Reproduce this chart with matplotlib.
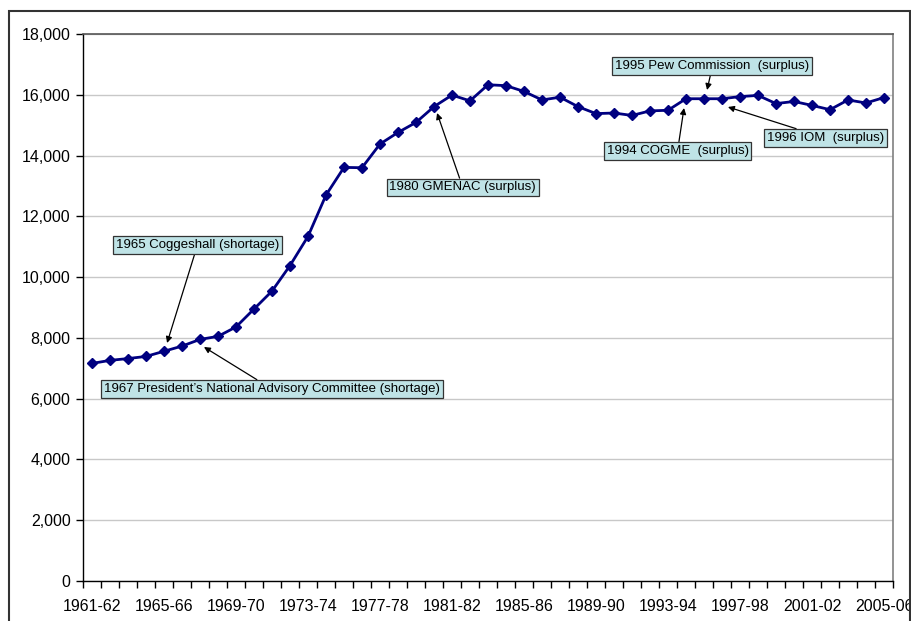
import matplotlib
matplotlib.use("Agg")
import matplotlib.pyplot as plt
from matplotlib.patches import Rectangle
from matplotlib.ticker import FuncFormatter

plt.rcParams['font.family'] = ['Liberation Sans', 'DejaVu Sans']

# ---- data ----
years = [f"{y}-{str(y + 1)[-2:]}" for y in range(1961, 2006)]
residents = [7160, 7260, 7320, 7390, 7560, 7730, 7950, 8050, 8360, 8950,
             9540, 10380, 11340, 12700, 13610, 13600, 14380, 14760, 15090, 15610,
             15990, 15800, 16330, 16300, 16110, 15830, 15920, 15610, 15380, 15400,
             15320, 15470, 15490, 15870, 15870, 15870, 15940, 15980, 15710, 15780,
             15650, 15510, 15830, 15730, 15910]
yticks = list(range(0, 18001, 2000))
label_every = 4

# annotations: text, arrow tip (x index, value), text centre (x index, value)
notes = [
    ("1965 Coggeshall (shortage)", (4.17, 7832), (5.86, 11057)),
    ("1967 President\u2019s National Advisory Committee (shortage)", (6.22, 7700), (10.0, 6318)),
    ("1980 GMENAC (surplus)", (19.17, 15400), (20.6, 12949)),
    ("1995 Pew Commission  (surplus)", (34.17, 16157), (34.47, 16947)),
    ("1994 COGME  (surplus)", (32.89, 15565), (32.53, 14150)),
    ("1996 IOM  (surplus)", (35.33, 15598), (40.75, 14577)),
]

fig = plt.figure(figsize=(9.11, 6.21), dpi=100)
ax = fig.add_axes([83 / 911, 40 / 621, 810 / 911, 547 / 621])

x = list(range(len(years)))
ax.plot(x, residents, color='#000080', lw=2.0, marker='D', ms=5.4,
        markerfacecolor='#000080', markeredgecolor='#000080', zorder=3)

ax.set_xlim(-0.5, len(years) - 0.5)
ax.set_ylim(0, 18000)
ax.set_yticks(yticks)
ax.yaxis.set_major_formatter(FuncFormatter(lambda v, p: f"{int(v):,}"))
ax.grid(axis='y', color='#c8c8c8', lw=1.0)
ax.set_axisbelow(True)

# category labels (every 4th) and tick marks at category boundaries
ax.set_xticks(x[::label_every])
ax.set_xticklabels(years[::label_every])
ax.set_xticks([i - 0.5 for i in range(len(years) + 1)], minor=True)
ax.tick_params(axis='x', which='major', length=0, pad=13, labelsize=11.5)
ax.tick_params(axis='x', which='minor', length=5, width=1, color='black', direction='out')
ax.tick_params(axis='y', length=5, width=1, direction='out', labelsize=11.5, pad=4)

for s in ['left', 'bottom']:
    ax.spines[s].set_color('black')
    ax.spines[s].set_linewidth(1.0)
for s in ['top', 'right']:
    ax.spines[s].set_color('#808080')
    ax.spines[s].set_linewidth(1.2)
ax.spines['top'].set_color('#555555')

for txt, tip, pos in notes:
    ax.annotate(txt, xy=tip, xytext=pos, textcoords='data', ha='center', va='center',
                fontsize=9.5,
                bbox=dict(boxstyle='square,pad=0.22', fc='#bfe3e6', ec='#333333', lw=0.9),
                arrowprops=dict(arrowstyle='-|>', color='black', lw=0.9,
                                mutation_scale=9, shrinkA=0, shrinkB=0),
                zorder=5)

# outer chart frame
fig.patches.append(Rectangle((9 / 911, -0.1), 901 / 911, 1.1 - 11 / 621,
                             transform=fig.transFigure, fill=False,
                             ec='#333333', lw=1.5, clip_on=False))

fig.savefig('out.png', dpi=100)
